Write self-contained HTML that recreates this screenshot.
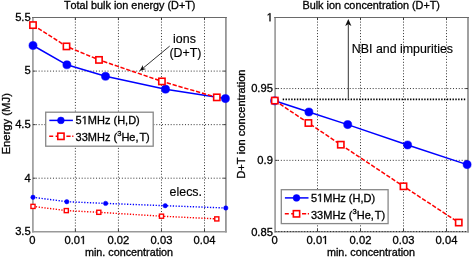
<!DOCTYPE html>
<html><head><meta charset="utf-8"><style>
html,body{margin:0;padding:0;background:#fff;width:472px;height:257px;overflow:hidden}
svg{display:block;will-change:transform}
</style></head><body>
<svg width="472" height="257" viewBox="0 0 472 257">
<defs><style>
text{font-family:"Liberation Sans",sans-serif;font-kerning:none;fill:#000;stroke:#000;stroke-width:0.3px}
.ax{fill:none;stroke:#8c8c8c;stroke-width:1.6}
.grid{stroke:#333;stroke-width:1.0;stroke-dasharray:1 1.87;fill:none}
.tk{font-size:11.2px}
.ti{font-size:10.85px}
.lab{font-size:10.8px}
.ann{font-size:12.4px;stroke-width:0.15px}
.leg{font-size:11.0px}
.bl{fill:none;stroke:#0000ff;stroke-width:1.5;stroke-linejoin:round}
.rd{fill:none;stroke:#ff0000;stroke-width:1.5;stroke-dasharray:4.3 1.8}
.bd{fill:none;stroke:#0000ff;stroke-width:1.4;stroke-dasharray:1.3 1.56}
.rdt{fill:none;stroke:#ff0000;stroke-width:1.4;stroke-dasharray:1.3 1.56}
.bc{fill:#0000ff;stroke:#0000ff;stroke-width:0.5}
.rs{fill:#fff;stroke:#ff0000;stroke-width:1.6}
.rs2{fill:#fff;stroke:#ff0000;stroke-width:1.4}
.arr{stroke:#333;stroke-width:1;fill:none}
</style></defs>
<rect width="472" height="257" fill="#fff"/>
<line x1="75.39" y1="17.5" x2="75.39" y2="231.8" class="grid" stroke-dashoffset="-1.25"/>
<line x1="118.43" y1="17.5" x2="118.43" y2="231.8" class="grid" stroke-dashoffset="-1.25"/>
<line x1="161.47" y1="17.5" x2="161.47" y2="231.8" class="grid" stroke-dashoffset="-1.25"/>
<line x1="204.51" y1="17.5" x2="204.51" y2="231.8" class="grid" stroke-dashoffset="-1.25"/>
<line x1="32.9" y1="178.2" x2="225.9" y2="178.2" class="grid"/>
<line x1="32.9" y1="124.65" x2="225.9" y2="124.65" class="grid"/>
<line x1="32.9" y1="71.1" x2="225.9" y2="71.1" class="grid"/>
<line x1="32.9" y1="17" x2="32.9" y2="232.6" stroke="#a2a2a2" stroke-width="1.8"/>
<line x1="225.9" y1="17" x2="225.9" y2="232.6" stroke="#969696" stroke-width="1.8"/>
<line x1="32" y1="231.8" x2="226.8" y2="231.8" stroke="#999" stroke-width="1.6"/>
<line x1="32" y1="17.5" x2="226.8" y2="17.5" stroke="#6a6a6a" stroke-width="1.1"/>
<path d="M75.39 231.8V229.2M75.39 17.5V20.1M118.43 231.8V229.2M118.43 17.5V20.1M161.47 231.8V229.2M161.47 17.5V20.1M204.51 231.8V229.2M204.51 17.5V20.1M32.9 178.2H35.5M225.9 178.2H223.3M32.9 124.65H35.5M225.9 124.65H223.3M32.9 71.1H35.5M225.9 71.1H223.3" stroke="#3a3a3a" stroke-width="1" fill="none"/>
<polyline points="33,197.3 66.8,201.7 105.6,203.4 165.2,205.7 225.8,208" class="bd"/>
<circle cx="33" cy="197.3" r="2.2" class="bc"/>
<circle cx="66.8" cy="201.7" r="2.2" class="bc"/>
<circle cx="105.6" cy="203.4" r="2.2" class="bc"/>
<circle cx="165.2" cy="205.7" r="2.2" class="bc"/>
<circle cx="225.8" cy="208" r="2.2" class="bc"/>
<polyline points="33,206.4 66.3,210.6 98.8,212.3 161.5,216.2 216.8,218.9" class="rdt"/>
<rect x="30.95" y="204.35" width="4.1" height="4.1" class="rs2"/>
<rect x="64.25" y="208.55" width="4.1" height="4.1" class="rs2"/>
<rect x="96.75" y="210.25" width="4.1" height="4.1" class="rs2"/>
<rect x="159.45" y="214.15" width="4.1" height="4.1" class="rs2"/>
<rect x="214.75" y="216.85" width="4.1" height="4.1" class="rs2"/>
<polyline points="33,45.5 66.9,64.8 105.5,76.3 165.5,89.15 225.4,98.6" class="bl"/>
<circle cx="33" cy="45.5" r="4.05" class="bc"/>
<circle cx="66.9" cy="64.8" r="4.05" class="bc"/>
<circle cx="105.5" cy="76.3" r="4.05" class="bc"/>
<circle cx="165.5" cy="89.15" r="4.05" class="bc"/>
<circle cx="225.4" cy="98.6" r="4.05" class="bc"/>
<polyline points="33,25.1 66.5,46.4 99,59.9 161.9,81.4 216.8,97.35" class="rd"/>
<rect x="29.85" y="21.95" width="6.3" height="6.3" class="rs"/>
<rect x="63.35" y="43.25" width="6.3" height="6.3" class="rs"/>
<rect x="95.85" y="56.75" width="6.3" height="6.3" class="rs"/>
<rect x="158.75" y="78.25" width="6.3" height="6.3" class="rs"/>
<rect x="213.65" y="94.2" width="6.3" height="6.3" class="rs"/>
<text x="30.7" y="235.15" class="tk" text-anchor="end" transform="translate(0,235.15) scale(1,1.04) translate(0,-235.15)">3.5</text>
<text x="30.7" y="181.6" class="tk" text-anchor="end" transform="translate(0,181.60) scale(1,1.04) translate(0,-181.60)">4</text>
<text x="30.7" y="128.05" class="tk" text-anchor="end" transform="translate(0,128.05) scale(1,1.04) translate(0,-128.05)">4.5</text>
<text x="30.7" y="74.5" class="tk" text-anchor="end" transform="translate(0,74.50) scale(1,1.04) translate(0,-74.50)">5</text>
<text x="30.7" y="20.95" class="tk" text-anchor="end" transform="translate(0,20.95) scale(1,1.04) translate(0,-20.95)">5.5</text>
<text x="32.35" y="244.1" class="tk" text-anchor="middle" transform="translate(0,244.10) scale(1,1.04) translate(0,-244.10)">0</text>
<text x="75.39" y="244.1" class="tk" text-anchor="middle" transform="translate(0,244.10) scale(1,1.04) translate(0,-244.10)">0.0 </text>
<text x="118.43" y="244.1" class="tk" text-anchor="middle" transform="translate(0,244.10) scale(1,1.04) translate(0,-244.10)">0.02</text>
<text x="161.47" y="244.1" class="tk" text-anchor="middle" transform="translate(0,244.10) scale(1,1.04) translate(0,-244.10)">0.03</text>
<text x="204.51" y="244.1" class="tk" text-anchor="middle" transform="translate(0,244.10) scale(1,1.04) translate(0,-244.10)">0.04</text>
<text x="129.7" y="8.8" class="ti" text-anchor="middle" transform="translate(0,8.80) scale(1,1.04) translate(0,-8.80)">Total bulk ion energy (D+T)</text>
<text x="129" y="255.7" class="lab" text-anchor="middle" transform="translate(0,255.70) scale(1,1.04) translate(0,-255.70)">min. concentration</text>
<text transform="translate(10.1,123.8) rotate(-90) scale(1,1.04)" class="lab" style="font-size:11.3px" text-anchor="middle">Energy (MJ)</text>
<text x="184.5" y="42.8" class="ann" text-anchor="middle" transform="translate(0,42.80) scale(1,1.04) translate(0,-42.80)">ions</text>
<text x="185.5" y="57.2" class="ann" text-anchor="middle" transform="translate(0,57.20) scale(1,1.04) translate(0,-57.20)">(D+T)</text>
<text x="185.8" y="196.4" class="ann" text-anchor="middle" transform="translate(0,196.40) scale(1,1.04) translate(0,-196.40)">elecs.</text>
<line x1="169.7" y1="46.1" x2="143" y2="68.2" class="arr"/>
<polygon points="139.5,71.1 142.9,65 143,68.2 146.1,68.9" fill="#111"/>
<rect x="45.7" y="112.2" width="107.5" height="34" fill="#fff" stroke="#888" stroke-width="1.3"/>
<line x1="49.3" y1="120.4" x2="72.9" y2="120.4" class="bl"/>
<circle cx="60.9" cy="120.4" r="3.4" class="bc"/>
<line x1="49.2" y1="136.3" x2="57.7" y2="136.3" class="rd" style="stroke-dasharray:4 2.4"/>
<line x1="66.4" y1="136.3" x2="73.4" y2="136.3" class="rd" style="stroke-dasharray:4.2 1.6"/>
<rect x="57.75" y="133.15" width="6.3" height="6.3" class="rs"/>
<text x="75.6" y="124.2" class="leg" transform="translate(0,124.20) scale(1,1.04) translate(0,-124.20)">5 MHz (H,D)</text>
<text x="75.6" y="141.5" class="leg" transform="translate(0,141.50) scale(1,1.04) translate(0,-141.50)">33MHz (<tspan dy="-4.9" font-size="7.6">3</tspan><tspan dy="4.9">He,</tspan><tspan dx="0.9">T)</tspan></text>
<line x1="317.5" y1="17.5" x2="317.5" y2="231.7" class="grid" stroke-dashoffset="-1.25"/>
<line x1="360.5" y1="17.5" x2="360.5" y2="231.7" class="grid" stroke-dashoffset="-1.25"/>
<line x1="403.5" y1="17.5" x2="403.5" y2="231.7" class="grid" stroke-dashoffset="-1.25"/>
<line x1="446.5" y1="17.5" x2="446.5" y2="231.7" class="grid" stroke-dashoffset="-1.25"/>
<line x1="275.1" y1="160.35" x2="468" y2="160.35" class="grid"/>
<line x1="275.1" y1="88.56" x2="468" y2="88.56" class="grid"/>
<line x1="275.1" y1="17" x2="275.1" y2="232.5" stroke="#a2a2a2" stroke-width="1.8"/>
<line x1="468" y1="17" x2="468" y2="232.5" stroke="#969696" stroke-width="1.8"/>
<line x1="274.2" y1="231.7" x2="468.9" y2="231.7" stroke="#999" stroke-width="1.6"/>
<line x1="274.2" y1="17.5" x2="468.9" y2="17.5" stroke="#6a6a6a" stroke-width="1.1"/>
<path d="M317.5 231.7V229.1M317.5 17.5V20.1M360.5 231.7V229.1M360.5 17.5V20.1M403.5 231.7V229.1M403.5 17.5V20.1M446.5 231.7V229.1M446.5 17.5V20.1M275.1 160.35H277.7M468 160.35H465.4M275.1 88.56H277.7M468 88.56H465.4" stroke="#3a3a3a" stroke-width="1" fill="none"/>
<line x1="275.5" y1="231.6" x2="467.5" y2="231.6" class="grid" style="stroke:#222"/>
<line x1="282.7" y1="99.35" x2="465.2" y2="99.35" stroke="#000" stroke-width="1.6" stroke-dasharray="1.4 1.43"/>
<line x1="348.3" y1="98.5" x2="348.3" y2="24.3" class="arr"/>
<polygon points="348.3,19 345.2,26 348.3,24.3 351.4,26" fill="#111"/>
<text x="351.8" y="53.4" class="ann" transform="translate(0,53.40) scale(1,1.04) translate(0,-53.40)">NBI and impurities</text>
<polyline points="274.6,100.8 308.9,112 347.7,124.6 407.6,144.95 467.1,164.6" class="bl"/>
<circle cx="274.6" cy="100.8" r="4.05" class="bc"/>
<circle cx="308.9" cy="112" r="4.05" class="bc"/>
<circle cx="347.7" cy="124.6" r="4.05" class="bc"/>
<circle cx="407.6" cy="144.95" r="4.05" class="bc"/>
<circle cx="467.1" cy="164.6" r="4.05" class="bc"/>
<polyline points="274.8,100.6 308.4,123 340.8,144.7 403.5,186.3 458.75,222.55" class="rd"/>
<rect x="271.65" y="97.45" width="6.3" height="6.3" class="rs"/>
<rect x="305.25" y="119.85" width="6.3" height="6.3" class="rs"/>
<rect x="337.65" y="141.55" width="6.3" height="6.3" class="rs"/>
<rect x="400.35" y="183.15" width="6.3" height="6.3" class="rs"/>
<rect x="455.6" y="219.4" width="6.3" height="6.3" class="rs"/>
<text x="272.9" y="235.54" class="tk" text-anchor="end" transform="translate(0,235.54) scale(1,1.04) translate(0,-235.54)">0.85</text>
<text x="272.9" y="163.75" class="tk" text-anchor="end" transform="translate(0,163.75) scale(1,1.04) translate(0,-163.75)">0.9</text>
<text x="272.9" y="91.96" class="tk" text-anchor="end" transform="translate(0,91.96) scale(1,1.04) translate(0,-91.96)">0.95</text>
<text x="272.9" y="21.3" class="tk" text-anchor="end" transform="translate(0,21.30) scale(1,1.04) translate(0,-21.30)"> </text>
<text x="274.5" y="244" class="tk" text-anchor="middle" transform="translate(0,244.00) scale(1,1.04) translate(0,-244.00)">0</text>
<text x="317.5" y="244" class="tk" text-anchor="middle" transform="translate(0,244.00) scale(1,1.04) translate(0,-244.00)">0.0 </text>
<text x="360.5" y="244" class="tk" text-anchor="middle" transform="translate(0,244.00) scale(1,1.04) translate(0,-244.00)">0.02</text>
<text x="403.5" y="244" class="tk" text-anchor="middle" transform="translate(0,244.00) scale(1,1.04) translate(0,-244.00)">0.03</text>
<text x="446.5" y="244" class="tk" text-anchor="middle" transform="translate(0,244.00) scale(1,1.04) translate(0,-244.00)">0.04</text>
<text x="371.2" y="8.8" class="ti" text-anchor="middle" transform="translate(0,8.80) scale(1,1.04) translate(0,-8.80)">Bulk ion concentration (D+T)</text>
<text x="371" y="255.7" class="lab" text-anchor="middle" transform="translate(0,255.70) scale(1,1.04) translate(0,-255.70)">min. concentration</text>
<text transform="translate(245,124.1) rotate(-90) scale(1,1.04)" class="lab" style="font-size:11.15px" text-anchor="middle">D+T ion concentration</text>
<rect x="281.3" y="189.7" width="106.8" height="33.9" fill="#fff" stroke="#888" stroke-width="1.3"/>
<line x1="284.9" y1="197.9" x2="308.5" y2="197.9" class="bl"/>
<circle cx="296.5" cy="197.9" r="3.4" class="bc"/>
<line x1="284.8" y1="213.8" x2="293.3" y2="213.8" class="rd" style="stroke-dasharray:4 2.4"/>
<line x1="302" y1="213.8" x2="309" y2="213.8" class="rd" style="stroke-dasharray:4.2 1.6"/>
<rect x="293.35" y="210.65" width="6.3" height="6.3" class="rs"/>
<text x="311" y="201.7" class="leg" transform="translate(0,201.70) scale(1,1.04) translate(0,-201.70)">5 MHz (H,D)</text>
<text x="311" y="219" class="leg" transform="translate(0,219.00) scale(1,1.04) translate(0,-219.00)">33MHz (<tspan dy="-4.9" font-size="7.6">3</tspan><tspan dy="4.9">He,</tspan><tspan dx="0.9">T)</tspan></text>
<path d="M515 0H696V1409H530L197 1180V1010L515 1237Z" transform="translate(80.04,244.10) scale(0.005469,-0.005687)" fill="#000" stroke="#000" stroke-width="0.3" vector-effect="non-scaling-stroke"/>
<path d="M515 0H696V1409H530L197 1180V1010L515 1237Z" transform="translate(81.71,124.20) scale(0.005371,-0.005586)" fill="#000" stroke="#000" stroke-width="0.3" vector-effect="non-scaling-stroke"/>
<path d="M515 0H696V1409H530L197 1180V1010L515 1237Z" transform="translate(266.68,21.30) scale(0.005469,-0.005687)" fill="#000" stroke="#000" stroke-width="0.3" vector-effect="non-scaling-stroke"/>
<path d="M515 0H696V1409H530L197 1180V1010L515 1237Z" transform="translate(322.15,244.00) scale(0.005469,-0.005687)" fill="#000" stroke="#000" stroke-width="0.3" vector-effect="non-scaling-stroke"/>
<path d="M515 0H696V1409H530L197 1180V1010L515 1237Z" transform="translate(317.11,201.70) scale(0.005371,-0.005586)" fill="#000" stroke="#000" stroke-width="0.3" vector-effect="non-scaling-stroke"/>
</svg>
</body></html>
